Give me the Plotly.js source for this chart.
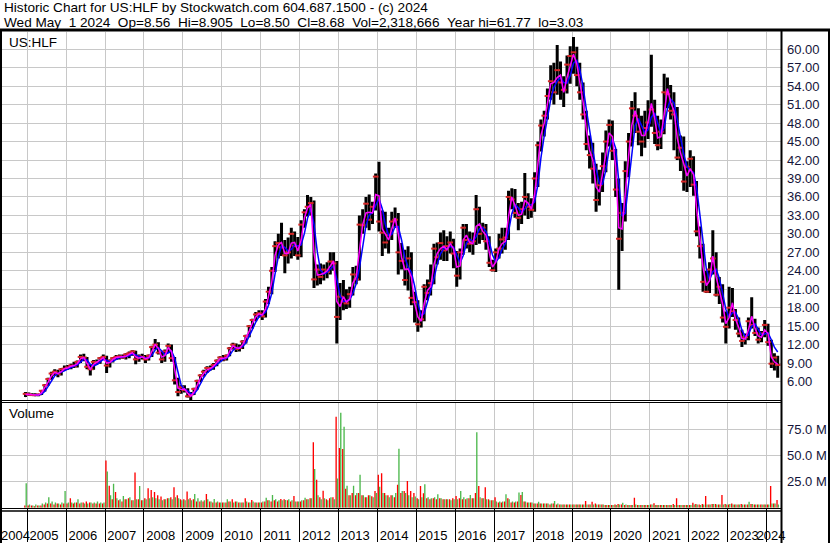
<!DOCTYPE html>
<html><head><meta charset="utf-8">
<script src="https://cdn.plot.ly/plotly-3.0.1.min.js"></script>
<style>html,body{margin:0;padding:0;background:#fff;}#chart{width:830px;height:543px;}</style>
</head><body><div id="chart"></div>
<script>
// ---- DATA (monthly, Dec 2004 .. Apr 2024) ----
const startYear = 2004, startMonth = 12;
const opn = [
3.6,
4.0,3.9,3.8,3.8,3.9,4.5,5.4,6.4,7.3,7.6,7.2,8.0,
8.1,8.3,8.6,8.5,9.2,10.0,9.9,8.4,8.0,9.2,9.1,9.8,
10.0,8.6,9.4,9.8,10.0,10.1,9.9,10.4,10.6,10.9,9.6,10.1,
10.0,9.6,10.2,11.6,12.0,10.7,9.6,10.9,11.8,9.8,6.2,4.3,
5.1,4.6,3.6,3.9,4.8,6.1,7.0,7.6,8.2,8.2,8.7,9.4,
9.9,9.6,10.2,11.4,12.0,11.3,11.5,12.5,13.4,15.0,16.0,16.9,
17.1,16.6,19.0,20.6,24.0,28.0,28.5,27.8,26.5,27.0,30.0,28.0,
26.5,31.5,33.5,34.4,35.0,22.6,24.2,23.0,24.2,23.8,25.5,25.2,
16.5,19.8,19.0,18.7,20.2,23.4,22.6,31.5,31.4,34.9,32.3,34.4,
39.3,32.0,30.2,28.6,29.8,32.0,32.3,27.0,25.6,22.5,26.0,19.6,
18.9,15.3,16.1,21.4,20.4,22.0,27.6,26.2,28.5,27.3,28.0,28.6,
26.8,23.2,27.0,31.0,29.0,28.4,28.8,34.0,30.0,31.0,28.8,25.3,
24.1,27.0,27.6,29.1,29.4,36.0,35.6,33.4,32.6,34.0,36.0,34.4,
33.9,39.0,44.4,47.6,49.2,52.4,54.8,53.0,56.6,54.6,53.4,57.5,
58.9,59.5,55.8,53.0,49.4,44.6,42.8,40.6,35.5,37.9,41.0,45.0,
47.7,43.5,37.2,29.2,33.4,40.2,45.0,50.4,49.2,46.6,45.0,47.2,
48.1,50.2,46.4,44.4,46.6,53.0,52.7,50.0,49.4,42.4,44.0,38.5,
40.9,42.2,38.0,30.4,28.0,22.2,20.6,24.2,26.0,20.1,21.4,16.4,
14.9,18.0,17.4,16.0,13.8,12.6,13.2,15.8,15.2,13.9,12.8,13.8,
15.2,12.4,8.9,9.9];
const hi = [
4.3,
4.2,4.1,4.1,4.0,4.6,5.6,6.6,7.6,8.0,7.9,8.2,8.6,
8.7,8.9,9.2,9.4,10.4,10.5,10.0,8.8,9.5,9.6,10.0,10.4,
10.2,9.6,10.0,10.3,10.4,10.4,10.6,10.9,11.1,11.0,10.4,10.5,
10.3,10.4,11.8,12.9,12.4,10.9,11.2,12.2,12.0,10.0,6.6,5.4,
5.4,4.9,4.3,5.0,6.3,7.2,7.9,8.5,8.6,9.0,9.6,10.1,
10.3,10.4,11.6,12.3,12.2,12.0,12.7,13.6,15.2,16.2,17.3,17.6,
17.6,19.4,21.4,24.6,28.8,30.0,31.8,29.0,29.4,31.0,30.4,29.5,
32.2,34.0,36.3,36.0,35.4,25.0,25.2,25.0,25.4,27.0,27.0,25.6,
22.0,22.5,21.0,21.4,24.6,24.8,33.0,34.0,36.0,36.4,35.2,39.8,
41.7,33.8,33.6,31.0,33.6,34.3,33.4,28.5,27.4,28.0,27.0,20.6,
19.2,17.6,21.8,22.6,25.0,28.4,28.6,30.2,30.6,29.6,30.4,29.2,
27.2,27.6,31.6,31.6,30.4,30.2,36.3,34.4,31.8,31.6,29.6,25.8,
27.6,30.0,31.0,31.0,37.0,37.4,37.3,35.0,35.2,39.9,36.6,35.8,
40.0,45.0,48.6,50.0,53.6,57.4,57.8,60.7,58.0,55.6,59.0,60.5,
62.0,60.4,57.8,54.6,50.0,46.0,44.8,41.4,40.4,43.2,46.8,48.6,
48.4,43.8,39.0,35.0,41.8,46.4,51.6,53.0,50.4,49.2,50.0,51.7,
59.1,51.8,49.2,48.6,56.0,55.4,54.2,53.0,50.6,46.0,45.8,41.8,
43.6,42.6,38.6,31.2,28.4,24.0,25.4,30.6,27.0,23.0,21.8,17.4,
21.4,21.2,17.8,16.4,14.4,13.8,16.4,19.7,16.2,14.8,14.2,16.0,
15.4,12.8,10.6,10.2];
const lo = [
3.5,
3.7,3.7,3.6,3.6,3.8,4.4,5.3,6.3,6.9,6.7,7.0,7.7,
7.9,8.0,8.2,8.3,9.0,9.3,8.0,7.0,7.9,8.7,8.9,9.5,
7.4,8.3,9.1,9.5,9.6,9.7,9.6,9.8,10.2,8.8,9.2,9.6,
9.0,9.4,10.0,11.2,10.4,9.0,9.2,10.6,9.2,5.5,3.6,4.0,
4.2,3.4,3.0,3.8,4.7,5.9,6.8,7.4,7.8,7.9,8.5,9.2,
9.3,9.4,10.1,11.2,10.8,10.9,11.3,12.2,13.2,14.6,15.8,16.4,
16.0,16.4,18.6,20.2,23.8,26.0,26.4,23.6,25.2,26.0,26.4,25.8,
26.2,31.0,32.8,33.0,21.2,21.6,21.8,22.4,22.8,23.4,24.0,12.2,
16.0,17.6,17.8,18.0,20.0,21.8,22.4,30.0,31.0,30.6,31.6,33.8,
30.4,26.4,27.6,26.8,29.0,31.0,23.4,24.2,21.6,20.8,18.4,15.6,
14.1,14.8,15.8,19.2,20.0,21.8,25.0,25.8,25.6,25.6,26.8,24.4,
21.4,22.6,26.6,27.6,27.0,26.6,28.2,28.4,29.0,27.4,24.6,23.9,
23.8,26.0,26.8,27.4,29.0,34.0,32.6,30.6,31.6,33.0,32.4,32.6,
33.6,37.6,43.4,45.8,48.6,51.8,51.0,52.6,51.8,50.6,52.8,54.4,
56.0,54.0,51.8,48.6,43.6,40.6,38.2,33.6,34.6,36.8,40.0,44.2,
42.0,36.0,20.9,27.2,32.0,39.2,44.2,46.4,44.4,42.6,44.0,45.4,
47.4,44.6,43.6,43.8,46.2,50.4,48.6,43.6,42.0,40.2,37.0,36.8,
37.6,36.2,29.6,26.0,20.6,20.4,20.4,23.4,19.8,18.6,15.6,12.2,
14.6,16.5,14.4,13.2,11.6,12.0,12.7,14.6,13.4,12.2,12.4,13.2,
11.8,8.2,7.8,6.6];
const cl = [
4.0,
3.9,3.8,3.8,3.9,4.5,5.4,6.4,7.3,7.6,7.2,8.0,8.1,
8.3,8.6,8.5,9.2,10.0,9.9,8.4,8.0,9.2,9.1,9.8,10.0,
8.6,9.4,9.8,10.0,10.1,9.9,10.4,10.6,10.9,9.6,10.1,10.0,
9.6,10.2,11.6,12.0,10.7,9.6,10.9,11.8,9.8,6.2,4.3,5.1,
4.6,3.6,3.9,4.8,6.1,7.0,7.6,8.2,8.2,8.7,9.4,9.9,
9.6,10.2,11.4,12.0,11.3,11.5,12.5,13.4,15.0,16.0,16.9,17.1,
16.6,19.0,20.6,24.0,28.0,28.5,27.8,26.5,27.0,30.0,28.0,26.5,
31.5,33.5,34.4,35.0,22.6,24.2,23.0,24.2,23.8,25.5,25.2,16.5,
19.8,19.0,18.7,20.2,23.4,22.6,31.5,31.4,34.9,32.3,34.4,39.3,
32.0,30.2,28.6,29.8,32.0,32.3,27.0,25.6,22.5,26.0,19.6,18.9,
15.3,16.1,21.4,20.4,22.0,27.6,26.2,28.5,27.3,28.0,28.6,26.8,
23.2,27.0,31.0,29.0,28.4,28.8,34.0,30.0,31.0,28.8,25.3,24.1,
27.0,27.6,29.1,29.4,36.0,35.6,33.4,32.6,34.0,36.0,34.4,33.9,
39.0,44.4,47.6,49.2,52.4,54.8,53.0,56.6,54.6,53.4,57.5,58.9,
59.5,55.8,53.0,49.4,44.6,42.8,40.6,35.5,37.9,41.0,45.0,47.7,
43.5,37.2,29.2,33.4,40.2,45.0,50.4,49.2,46.6,45.0,47.2,48.1,
50.2,46.4,44.4,46.6,53.0,52.7,50.0,49.4,42.4,44.0,38.5,40.9,
42.2,38.0,30.4,28.0,22.2,20.6,24.2,26.0,20.1,21.4,16.4,14.9,
18.0,17.4,16.0,13.8,12.6,13.2,15.8,15.2,13.9,12.8,13.8,15.2,
12.4,8.9,9.9,8.7];
// short moving average (magenta) and longer moving average (blue)
const maShort = [
3.9,
3.95,3.85,3.8,3.8,4.2,5.0,5.9,6.9,7.5,7.3,7.6,8.1,
8.2,8.5,8.6,8.9,9.7,9.9,9.0,8.0,8.8,9.1,9.5,9.9,
9.0,9.1,9.6,9.9,10.0,10.0,10.1,10.4,10.7,10.0,9.8,10.0,
9.7,9.9,10.9,12.0,11.4,10.0,10.2,11.5,10.9,7.8,4.9,4.7,
4.8,4.1,3.6,4.3,5.5,6.6,7.3,7.9,8.1,8.5,9.1,9.7,
9.8,9.9,10.9,11.8,11.5,11.4,12.0,13.0,14.2,15.5,16.5,17.0,
16.8,17.8,19.8,22.2,26.5,28.2,28.6,26.8,26.8,28.5,28.6,27.2,
29.0,32.6,34.2,34.8,27.0,23.3,23.4,23.6,24.0,24.8,25.6,19.0,
18.2,19.8,18.9,19.4,22.0,23.0,27.0,31.5,33.4,33.5,33.4,36.4,
36.2,30.8,30.0,29.0,30.8,32.6,30.0,26.2,24.2,24.3,23.0,18.8,
16.5,15.8,18.6,20.8,21.4,25.0,26.8,27.6,28.0,27.4,28.4,27.6,
24.6,24.8,29.0,29.8,28.6,28.4,31.2,31.6,30.4,29.8,27.0,24.6,
25.4,27.6,28.4,28.8,32.8,36.0,34.6,33.0,33.2,35.4,35.0,34.0,
36.4,41.6,46.0,48.0,51.0,54.4,54.6,55.4,55.8,53.0,55.4,57.4,
59.2,57.6,54.6,51.4,47.0,43.6,42.0,37.6,36.8,39.6,43.0,46.4,
45.8,40.8,31.0,30.8,37.0,42.6,47.6,50.0,48.0,46.0,46.0,48.2,
51.2,48.8,45.6,45.8,49.4,53.6,51.4,50.0,45.6,43.2,41.4,39.4,
40.6,39.6,34.2,29.0,24.6,21.6,22.4,26.4,23.0,20.8,18.6,15.4,
16.4,18.8,16.2,14.8,13.0,12.9,14.4,16.6,14.6,13.4,13.2,14.4,
13.8,10.0,9.2,8.8];
const maLong = [
null,
null,null,3.85,3.8,3.95,4.44,5.2,6.12,6.94,7.3,7.46,7.74,
8.04,8.3,8.48,8.7,9.16,9.62,9.5,8.78,8.52,8.76,9.2,9.58,
9.46,9.22,9.28,9.62,9.88,9.98,10.04,10.2,10.46,10.36,10.06,9.92,
9.84,9.84,10.26,11.14,11.54,10.96,10.36,10.68,11.0,9.78,7.26,5.4,
4.78,4.5,4.04,3.98,4.64,5.7,6.66,7.4,7.86,8.22,8.66,9.22,
9.62,9.82,10.28,11.06,11.5,11.52,11.66,12.28,13.28,14.48,15.64,16.5,
16.82,17.24,18.4,20.36,23.44,26.32,28.02,27.8,27.16,27.48,28.2,28.02,
28.2,30.08,32.52,34.12,31.56,27.08,24.08,23.46,23.72,24.24,24.8,22.6,
19.9,19.0,19.12,19.28,20.34,21.88,24.4,28.0,31.36,33.06,33.44,34.62,
35.72,34.08,31.56,29.76,29.92,31.16,31.2,29.0,26.16,24.64,23.76,21.58,
18.72,16.68,17.06,18.92,20.6,22.72,25.0,26.76,27.6,27.68,27.92,27.88,
26.56,25.28,26.44,28.48,29.16,28.76,29.56,30.8,31.04,30.4,28.8,26.6,
25.4,26.12,27.48,28.4,30.32,33.28,34.8,34.24,33.4,34.04,34.8,34.68,
35.2,38.0,42.3,45.9,48.8,51.8,53.8,54.8,55.4,54.6,54.5,55.7,
57.72,58.2,56.72,53.92,50.28,46.52,43.64,40.56,38.16,38.08,40.4,43.68,
45.48,43.92,37.88,32.88,33.32,38.0,43.48,47.56,48.72,47.6,46.4,46.88,
48.96,49.64,48.0,46.32,47.2,50.36,51.88,51.28,48.52,45.52,42.96,40.96,
40.28,39.96,37.64,33.2,28.28,24.28,22.52,23.84,24.24,22.8,20.36,17.76,
16.44,17.16,17.28,16.16,14.36,13.32,13.52,14.98,15.36,14.52,13.56,13.72,
13.92,12.8,11.6,10.8];
// volume in millions (peak daily volume each month), up days / down days
const volUp = [
23.4,
3,2,3,2,4,5,10,6,5,4,5,16,
5,5,5,8,5,4,4,5,5,6,5,5,
34.6,12,22.8,9,8,11.2,8,10,7,8,20.8,7,
8,9,10,9,8,7,8,9,8,10,9,7,
7,8,7,13,9,7,7,8,6,8.3,6,5,
5,8,6,5,6,5,5,6,5,6,5,5,
6,9.6,7,12.2,8,7,7,7.4,8,7,6,6,
7,9.6,8,9,36.9,12,8,9,7,10,8,28,
90.7,77.2,21,12,21,14,31.4,12,10,12,10,14,
20,14,12,10,12,14,56.4,16,14,12,10,10.6,
8,10,22.4,10,9,10,12.8,9,8,8,7,8,
8,16,10,9,12.2,9,72.1,10,9,8,7,7,
6,6,6,12.8,8,6,6,14.4,15,6,5,5,
4,5.8,4,4,4,4,6.4,4,3,3,3,3,
3,3,3,3,3,3,3,3,3,3,2.5,2.5,
2.5,2.5,3,4.8,3,2.5,2.5,3,2.5,2.5,2.5,2.5,
3,2.5,2.5,2.5,2.5,2.5,2.5,2.5,2.5,2.5,2.5,2.5,
2.5,3,3,2.5,3,3,3,3.5,3,3,3,3,
3.5,3,3,3,3,3,5.8,3.5,3,3,3,3,
3,4,4,3];
const volDn = [
2,
2,2,1.5,2,2,3,4,4,3,4,3,4,
4,9,4,5,4,5,6,5,4,4,4,4,
45,21,8,15,7,6,8,9,7,33.7,8,7,
9,18.6,17,15,12,10.6,8,9,10,19.6,12,8,
8,15.4,9,8,6,6,6,13,6,5,5,5,
5,5,6,8,6,5,5,9,5,7.4,5,5,
5,6,7,6,7,6,8.3,8,7,6,11.2,6,
6,7,8,9,62.5,26.6,10,16.3,8,9,10,86.9,
57,56,18,12,14,12,14,12,10,12,11,16,
31.4,33,14,12,12,10,22,14,16,25.6,16,14,
9,20.8,13.8,9,8,9,8,9,8,8,8,9,
11.2,9,8,8,9,9,14,20.8,9,19.6,8,7,
10,5,5,6,9,5,5,6,12.2,6,5,5,
4,4,4,4,4,3,4,3,3,3,3,3,
3,3,3,3,6.4,3,5.8,4,3,3,2.5,2.5,
2.5,3,3.5,3,2.5,2.5,2.5,9.6,2.5,2.5,2.5,2.5,
3,4.2,2.5,2.5,2.5,2.5,2.5,3.5,9,2.5,2.5,2.5,
2.5,4.8,3.5,3,3.5,11.2,3,3.5,3.5,3,12.2,3.5,
3,4,3,3,3.5,3,3,3.5,3,3,3,3,
3,20.8,4,7.4];
// axis labels
const yearLabels = ['2004','2005','2006','2007','2008','2009','2010','2011','2012','2013','2014','2015','2016','2017','2018','2019','2020','2021','2022','2023','2024'];
const yearLabelDates = ['2004-09-12','2005-06-06','2006-06-06','2007-06-06','2008-06-06','2009-06-06','2010-06-06','2011-06-06','2012-06-06','2013-06-06','2014-06-06','2015-06-06','2016-06-06','2017-06-06','2018-06-06','2019-06-06','2020-06-06','2021-06-06','2022-06-06','2023-06-06','2024-02-13'];
const yearStarts = ['2005-01-01','2006-01-01','2007-01-01','2008-01-01','2009-01-01','2010-01-01','2011-01-01','2012-01-01','2013-01-01','2014-01-01','2015-01-01','2016-01-01','2017-01-01','2018-01-01','2019-01-01','2020-01-01','2021-01-01','2022-01-01','2023-01-01','2024-01-01'];
const priceTicks = [6,9,12,15,18,21,24,27,30,33,36,39,42,45,48,51,54,57,60];
const volTicks = [25,50,75];
const volTickText = ['25.0 M','50.0 M','75.0 M'];
const headerLine1 = 'Historic Chart for US:HLF by Stockwatch.com 604.687.1500 - (c) 2024';
const headerLine2 = 'Wed May  1 2024  Op=8.56  Hi=8.905  Lo=8.50  Cl=8.68  Vol=2,318,666  Year hi=61.77  lo=3.03';

// ---- build ----
const months = cl.map((_, i) => {
  const m0 = startMonth - 1 + i;
  const y = startYear + Math.floor(m0 / 12);
  const m = (m0 % 12) + 1;
  return y + '-' + String(m).padStart(2, '0') + '-15';
});
const W = 830, H = 543;
const px = x => x / W, py = y => 1 - y / H;
const FONT = 'Liberation Sans, Arial, sans-serif';

const traces = [
  {type: 'bar', x: months, y: volDn, marker: {color: '#ff0000', line: {width: 0}}, xaxis: 'x', yaxis: 'y2', hoverinfo: 'skip'},
  {type: 'bar', x: months, y: volUp, marker: {color: '#4cb84c', line: {width: 0}}, xaxis: 'x', yaxis: 'y2', hoverinfo: 'skip'},
  {type: 'ohlc', x: months, open: opn, high: hi, low: lo, close: cl, xaxis: 'x', yaxis: 'y',
   increasing: {line: {color: '#000000', width: 3}}, decreasing: {line: {color: '#000000', width: 3}},
   tickwidth: 0.05, hoverinfo: 'skip'},
  {type: 'scatter', mode: 'markers', x: months, y: cl, xaxis: 'x', yaxis: 'y', hoverinfo: 'skip',
   marker: {symbol: 'line-ew-open', size: 4, line: {color: '#ff0000', width: 2}}},
  {type: 'scatter', mode: 'lines', x: months, y: maLong, line: {color: '#0000ff', width: 1.5}, xaxis: 'x', yaxis: 'y', hoverinfo: 'skip', connectgaps: false},
  {type: 'scatter', mode: 'lines', x: months, y: maShort, line: {color: '#ff00ff', width: 1.5}, xaxis: 'x', yaxis: 'y', hoverinfo: 'skip'}
];

const hline = (y, x0, x1, w) => ({type: 'line', xref: 'paper', yref: 'paper', x0: px(x0), x1: px(x1), y0: py(y), y1: py(y), line: {color: '#000', width: w}});
const vline = (x, y0, y1, w) => ({type: 'line', xref: 'paper', yref: 'paper', x0: px(x), x1: px(x), y0: py(y0), y1: py(y1), line: {color: '#000', width: w}});

const layout = {
  width: W, height: H, margin: {l: 0, r: 0, t: 0, b: 0, pad: 0},
  paper_bgcolor: '#ffffff', plot_bgcolor: '#ffffff', showlegend: false,
  barmode: 'group', bargap: 0.1, bargroupgap: 0,
  font: {family: FONT, size: 13, color: '#000'},
  xaxis: {
    type: 'date', domain: [px(2), px(781)], range: ['2004-05-08', '2024-05-16'], anchor: 'y2',
    rangeslider: {visible: false},
    tickmode: 'array', tickvals: yearLabelDates, ticktext: yearLabels, ticks: '', showgrid: false, tickangle: 0,
    ticklabeloverflow: 'allow',
    zeroline: false, showline: false, tickfont: {family: FONT, size: 13, color: '#000'}, ticklabelstandoff: 18,
    minor: {tickmode: 'array', tickvals: yearStarts, showgrid: true, gridcolor: '#c8c8c8', gridwidth: 1,
            ticks: 'outside', ticklen: 33, tickcolor: '#000', tickwidth: 1}
  },
  yaxis: {
    domain: [py(400), py(32)], range: [3.0, 62.8], side: 'right', anchor: 'x',
    tickmode: 'array', tickvals: priceTicks, tickformat: '.2f', ticks: '', showgrid: true, gridcolor: '#c8c8c8', gridwidth: 1,
    zeroline: false, showline: false, tickfont: {family: FONT, size: 13, color: '#14143a'}, ticklabelstandoff: 5
  },
  yaxis2: {
    domain: [py(507.7), py(403)], range: [0, 100], side: 'right', anchor: 'x',
    tickmode: 'array', tickvals: volTicks, ticktext: volTickText, ticks: '', showgrid: true, gridcolor: '#c8c8c8', gridwidth: 1,
    zeroline: false, showline: false, tickfont: {family: FONT, size: 13, color: '#14143a'}, ticklabelstandoff: 5
  },
  shapes: [
    hline(30, 0, W, 3),
    vline(1, 29, H, 2),
    vline(781.5, 29, H, 2),
    vline(829, 29, H, 2),
    hline(400.5, 0, 781, 1),
    hline(402.5, 0, 781, 1),
    hline(508.5, 0, 781, 1),
    hline(511, 0, 781, 1.5)
  ],
  annotations: [
    {xref: 'paper', yref: 'paper', x: px(3), y: py(8), xanchor: 'left', yanchor: 'middle', showarrow: false, borderpad: 0,
     text: headerLine1.replace(/ /g, '\u00a0'), font: {family: FONT, size: 13.6, color: '#000'}},
    {xref: 'paper', yref: 'paper', x: px(3), y: py(22.5), xanchor: 'left', yanchor: 'middle', showarrow: false, borderpad: 0,
     text: headerLine2.replace(/ /g, '\u00a0'), font: {family: FONT, size: 13.6, color: '#000'}},
    {xref: 'paper', yref: 'paper', x: px(7), y: py(33), xanchor: 'left', yanchor: 'top', showarrow: false,
     text: 'US:HLF', font: {family: FONT, size: 13.5, color: '#000'}},
    {xref: 'paper', yref: 'paper', x: px(7), y: py(404), xanchor: 'left', yanchor: 'top', showarrow: false,
     text: 'Volume', font: {family: FONT, size: 13.5, color: '#000'}}
  ]
};

Plotly.newPlot('chart', traces, layout, {staticPlot: true, displayModeBar: false});
</script>
</body></html>
